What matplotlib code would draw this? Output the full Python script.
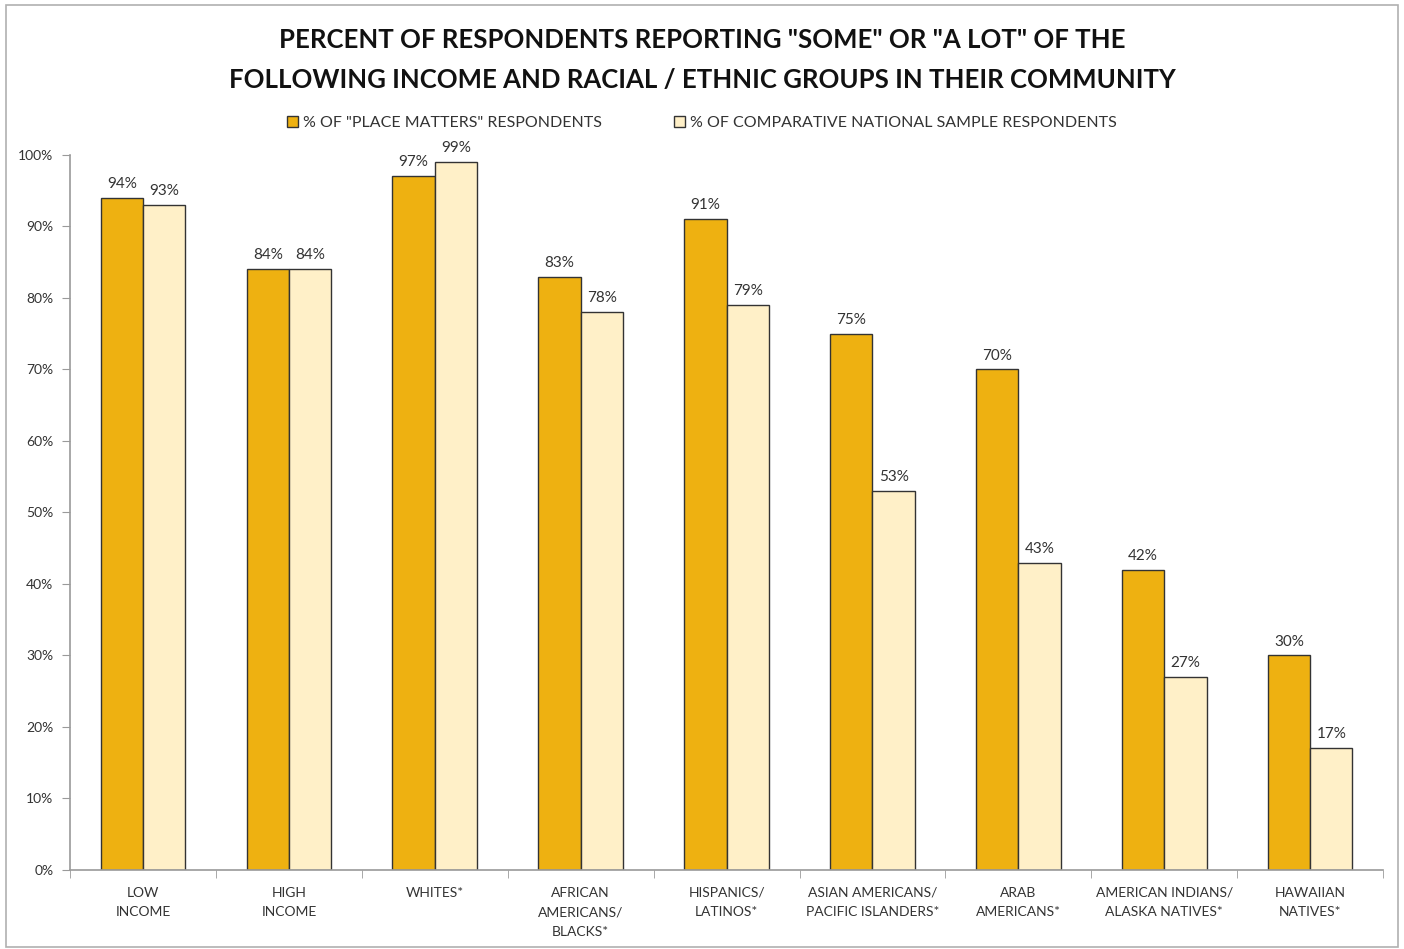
import numpy as np
import matplotlib.pyplot as plt
from matplotlib.patches import Rectangle

plt.rcParams['font.family'] = ['Lato', 'DejaVu Sans']

categories = ["LOW\nINCOME", "HIGH\nINCOME", "WHITES*", "AFRICAN\nAMERICANS/\nBLACKS*",
              "HISPANICS/\nLATINOS*", "ASIAN AMERICANS/\nPACIFIC ISLANDERS*",
              "ARAB\nAMERICANS*", "AMERICAN INDIANS/\nALASKA NATIVES*", "HAWAIIAN\nNATIVES*"]
place_matters = [94, 84, 97, 83, 91, 75, 70, 42, 30]
national = [93, 84, 99, 78, 79, 53, 43, 27, 17]
series_names = ['% OF "PLACE MATTERS" RESPONDENTS', '% OF COMPARATIVE NATIONAL SAMPLE RESPONDENTS']

gold = "#EEB111"
cream = "#FFF0C8"
grey = "#9a9a9a"
txt = "#333333"

fig = plt.figure(figsize=(14.04, 9.49), dpi=100)
ax = fig.add_axes([0.0499, 0.0833, 0.9352, 0.7534])

x = np.arange(len(categories))
w = 0.29
b1 = ax.bar(x - w / 2, place_matters, w, color=gold, edgecolor="#333333", linewidth=1.0, label=series_names[0])
b2 = ax.bar(x + w / 2, national, w, color=cream, edgecolor="#333333", linewidth=1.0, label=series_names[1])

for bars, vals in ((b1, place_matters), (b2, national)):
    for r, v in zip(bars, vals):
        ax.annotate(f"{v}%", (r.get_x() + r.get_width() / 2, v), xytext=(0, 5),
                    textcoords="offset points", ha="center", va="bottom",
                    fontsize=11, color=txt)

ax.set_xlim(-0.5, len(categories) - 0.5)
ax.set_ylim(0, 100)
ax.set_yticks(np.arange(0, 101, 10))
ax.set_yticklabels([f"{t}%" for t in range(0, 101, 10)], fontsize=10, color=txt)

ax.set_xticks(x)
ax.set_xticklabels(categories, fontsize=10, color=txt, linespacing=1.75, va="top")
ax.tick_params(axis="x", which="major", length=0, pad=12)
ax.set_xticks(np.arange(-0.5, len(categories), 1), minor=True)
ax.tick_params(axis="x", which="minor", length=6, color=grey, direction="out")
ax.tick_params(axis="y", length=6, color=grey, direction="out", pad=6)

for s in ("top", "right"):
    ax.spines[s].set_visible(False)
for s in ("left", "bottom"):
    ax.spines[s].set_color(grey)
    ax.spines[s].set_linewidth(1.2)

fig.text(0.5, 0.958, 'PERCENT OF RESPONDENTS REPORTING "SOME" OR "A LOT" OF THE',
         ha="center", va="center", fontsize=18.5, fontweight="bold", color="#111111")
fig.text(0.5, 0.916, 'FOLLOWING INCOME AND RACIAL / ETHNIC GROUPS IN THEIR COMMUNITY',
         ha="center", va="center", fontsize=18.5, fontweight="bold", color="#111111")

leg = fig.legend(handles=[b1, b2], loc="center", bbox_to_anchor=(0.5, 0.870), ncol=2,
                 frameon=False, fontsize=11.5, handlelength=0.7, handleheight=0.7,
                 handletextpad=0.3, columnspacing=4.5)
for t in leg.get_texts():
    t.set_color(txt)

fig.patches.append(Rectangle((0.004, 0.002), 0.992, 0.993, transform=fig.transFigure,
                             fill=False, edgecolor="#b0b0b0", linewidth=1.2))

fig.savefig("out.png", dpi=100)
